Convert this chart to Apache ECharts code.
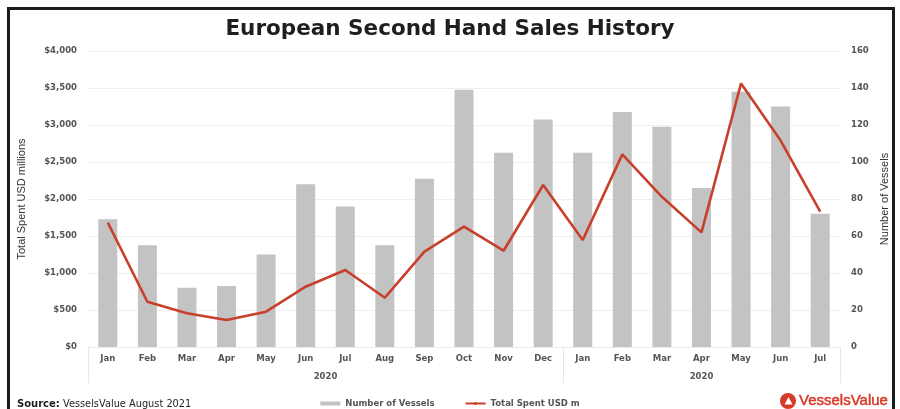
<!DOCTYPE html>
<html>
<head>
<meta charset="utf-8">
<script src="https://cdn.jsdelivr.net/npm/echarts@6/dist/echarts.min.js"></script>
<style>
  html, body { margin: 0; padding: 0; background: #ffffff; }
  #chart { width: 900px; height: 409px; }
</style>
</head>
<body>
<div id="chart"></div>
<script>
// Monthly categories, Jan 2020 – Jul 2021
const months = ['Jan','Feb','Mar','Apr','May','Jun','Jul','Aug','Sep','Oct','Nov','Dec',
                'Jan','Feb','Mar','Apr','May','Jun','Jul'];
// Year groups along the category axis (first and last month index)
const yearLabels = ['2020', '2020'];
const yearStart = [0, 12];
const yearEnd = [11, 18];
// Number of vessels sold (right axis)
const vessels = [69, 55, 32, 33, 50, 88, 76, 55, 91, 139, 105, 123, 105, 127, 119, 86, 138, 130, 72];
// Total spent, USD millions (left axis)
const spent = [1680, 612, 455, 365, 477, 815, 1040, 666, 1288, 1626, 1301, 2189,
               1446, 2603, 2030, 1549, 3562, 2790, 1828];
// Axis tick values
const spentTicks = [0, 500, 1000, 1500, 2000, 2500, 3000, 3500, 4000];
const vesselTicks = [0, 20, 40, 60, 80, 100, 120, 140, 160];

const yearCenters = yearStart.map((s, i) => (s + yearEnd[i]) / 2);
const yearBounds = [yearStart[0] - 0.5].concat(yearEnd.map(e => e + 0.5));

const RED = '#c8402c';
const GREY_BAR = '#c3c3c3';
const AXIS_TXT = '#555555';
const LABEL_FONT = { fontFamily: 'DejaVu Sans', fontWeight: 'bold', fontSize: 8.5, color: AXIS_TXT };

const chart = echarts.init(document.getElementById('chart'), null, { renderer: 'canvas' });

chart.setOption({
  backgroundColor: '#ffffff',
  animation: false,
  title: {
    text: 'European Second Hand Sales History',
    left: 'center',
    top: 13,
    textStyle: { fontFamily: 'DejaVu Sans', fontWeight: 'bold', fontSize: 21.5, color: '#1e1e1e' }
  },
  grid: { left: 88, right: 60, top: 51, bottom: 62, containLabel: false },
  legend: {
    left: 'center',
    top: 394,
    itemGap: 30,
    itemWidth: 20,
    itemHeight: 4,
    textStyle: { fontFamily: 'DejaVu Sans', fontWeight: 'bold', fontSize: 8.5, color: '#555' },
    data: [
      { name: 'Number of Vessels', icon: 'rect' },
      { name: 'Total Spent USD m' }
    ]
  },
  xAxis: [
    {
      type: 'category',
      data: months,
      boundaryGap: true,
      axisLine: { show: true, lineStyle: { color: '#ececec' } },
      axisTick: { show: false },
      axisLabel: Object.assign({ margin: 7 }, LABEL_FONT)
    },
    {
      type: 'value',
      position: 'bottom',
      min: yearBounds[0],
      max: yearBounds[yearBounds.length - 1],
      axisLine: { show: false },
      splitLine: { show: false },
      axisTick: {
        show: true,
        length: 36,
        customValues: yearBounds,
        lineStyle: { color: '#e8e8e8', width: 1 }
      },
      axisLabel: Object.assign({
        customValues: yearCenters,
        formatter: (v) => {
          const i = yearCenters.indexOf(v);
          return i >= 0 ? yearLabels[i] : '';
        },
        margin: 25
      }, LABEL_FONT)
    }
  ],
  yAxis: [
    {
      type: 'value',
      min: spentTicks[0],
      max: spentTicks[spentTicks.length - 1],
      interval: spentTicks[1] - spentTicks[0],
      name: 'Total Spent USD millions',
      nameLocation: 'middle',
      nameGap: 61,
      nameTextStyle: { fontFamily: 'Liberation Sans', fontSize: 11, color: '#333' },
      axisLine: { show: false },
      axisTick: { show: false },
      axisLabel: Object.assign({
        margin: 11,
        formatter: (v) => '$' + v.toLocaleString('en-US')
      }, LABEL_FONT),
      splitLine: { show: true, lineStyle: { color: '#efefef', width: 1 } }
    },
    {
      type: 'value',
      min: vesselTicks[0],
      max: vesselTicks[vesselTicks.length - 1],
      interval: vesselTicks[1] - vesselTicks[0],
      name: 'Number of Vessels',
      nameLocation: 'middle',
      nameGap: 36,
      nameTextStyle: { fontFamily: 'Liberation Sans', fontSize: 11, color: '#333' },
      axisLine: { show: false },
      axisTick: { show: false },
      axisLabel: Object.assign({ margin: 11 }, LABEL_FONT),
      splitLine: { show: false }
    }
  ],
  series: [
    {
      name: 'Number of Vessels',
      type: 'bar',
      yAxisIndex: 1,
      xAxisIndex: 0,
      data: vessels,
      barWidth: '48%',
      itemStyle: { color: GREY_BAR }
    },
    {
      name: 'Total Spent USD m',
      type: 'line',
      yAxisIndex: 0,
      xAxisIndex: 0,
      data: spent,
      symbol: 'none',
      showSymbol: false,
      lineStyle: { color: RED, width: 2.6 },
      itemStyle: { color: RED },
      z: 3
    }
  ],
  graphic: [
    {
      type: 'rect',
      shape: { x: 8.5, y: 8.5, width: 885, height: 410 },
      style: { fill: 'none', stroke: '#1c1c1c', lineWidth: 3 },
      silent: true, z: 100
    },
    {
      type: 'text',
      left: 17, top: 399,
      style: {
        text: '{b|Source:} VesselsValue August 2021',
        rich: {
          b: { fontFamily: 'DejaVu Sans', fontWeight: 'bold', fontSize: 10, fill: '#1e1e1e' }
        },
        fontFamily: 'DejaVu Sans', fontSize: 9.8, fill: '#1e1e1e'
      }
    },
    {
      type: 'group',
      left: 780, top: 393,
      children: [
        { type: 'circle', shape: { cx: 9, cy: 9, r: 8 }, style: { fill: '#d63b2a' } },
        { type: 'polygon', shape: { points: [[5.5, 12.5], [9.5, 5], [13.5, 12.5]] },
          style: { fill: '#ffffff' } },
        { type: 'text', x: 20, y: 1.5,
          style: { text: 'VesselsValue', fontFamily: 'Liberation Sans', fontSize: 15,
                   fill: '#d63b2a', stroke: '#d63b2a', lineWidth: 0.5 } }
      ]
    }
  ]
});
</script>
</body>
</html>
